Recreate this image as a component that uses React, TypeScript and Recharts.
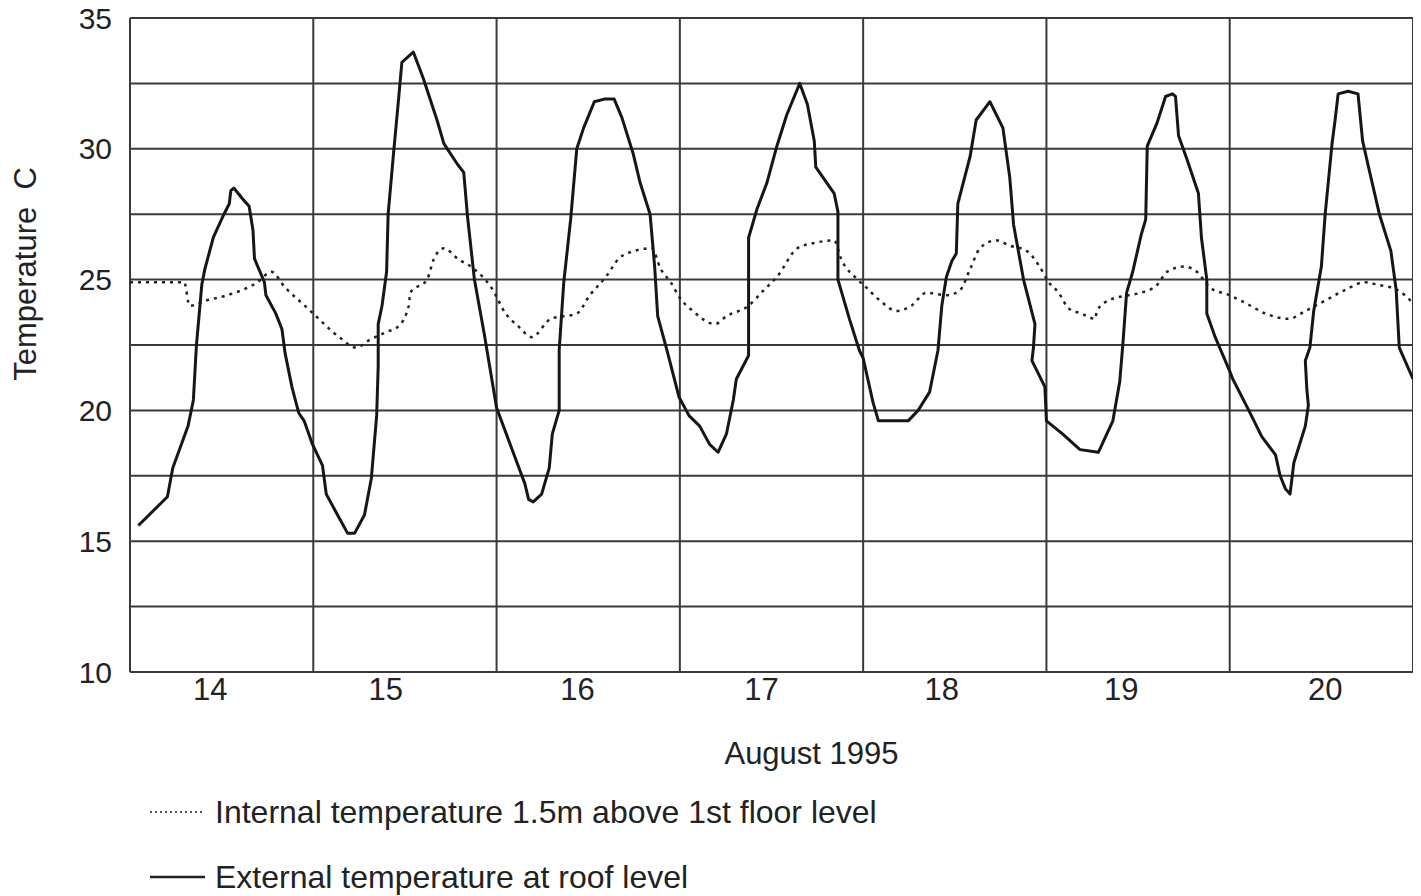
import React from 'react'
import { LineChart, Line, XAxis, YAxis, CartesianGrid, ReferenceLine } from 'recharts'

// August 1995, hours counted from midnight on the 14th
const dayLabels = ['14', '15', '16', '17', '18', '19', '20']
const labelHours = [10.5, 33.5, 58.6, 82.7, 106.3, 129.8, 156.5]
const dayBoundaries = [0, 24, 48, 72, 96, 120, 144, 168]
const tempTicks = [10, 12.5, 15, 17.5, 20, 22.5, 25, 27.5, 30, 32.5, 35]

// external temperature at roof level [hour, °C]
const external: [number, number][] = [
  [1.1, 15.6], [4.9, 16.7], [5.6, 17.8], [7.6, 19.4], [8.3, 20.4], [8.7, 22.5], [9.4, 24.8], [9.8, 25.4], [10.9, 26.6], [12.3, 27.5], [13.0, 27.9], [13.2, 28.4], [13.6, 28.5], [14.7, 28.1], [15.6, 27.8], [16.1, 26.9], [16.3, 25.8], [17.6, 24.9], [17.8, 24.4], [19.1, 23.7], [19.9, 23.1], [20.3, 22.2], [21.2, 20.9], [22.1, 19.9], [22.8, 19.6], [23.9, 18.7],
  [25.2, 17.9], [25.7, 16.8], [27.0, 16.1], [28.5, 15.3], [29.4, 15.3], [30.7, 16.0], [31.6, 17.4], [32.3, 19.8], [32.5, 21.7], [32.5, 23.3], [33.0, 24.0], [33.6, 25.3], [33.8, 27.5], [34.5, 29.8], [35.2, 32.0], [35.6, 33.3], [37.1, 33.7], [38.4, 32.7], [40.2, 31.1], [41.1, 30.2], [42.9, 29.4], [43.7, 29.1], [44.2, 27.4], [45.1, 25.0], [46.4, 22.9], [48.0, 20.1],
  [51.7, 17.2], [52.2, 16.6], [52.8, 16.5], [53.9, 16.8], [54.9, 17.8], [55.3, 19.1], [56.2, 20.0], [56.2, 22.3], [56.8, 24.9], [57.7, 27.3], [58.5, 30.0], [59.4, 30.8], [60.8, 31.8], [62.1, 31.9], [63.4, 31.9], [64.4, 31.2], [65.9, 29.8], [66.8, 28.7], [68.1, 27.5], [68.7, 25.5], [69.1, 23.6], [70.4, 22.2], [71.9, 20.5],
  [73.2, 19.8], [74.6, 19.4], [75.9, 18.7], [77.0, 18.4], [78.1, 19.1], [79.0, 20.4], [79.4, 21.2], [81.0, 22.1], [81.0, 24.5], [81.0, 26.6], [82.1, 27.7], [83.4, 28.7], [84.7, 30.1], [86.0, 31.3], [87.7, 32.5], [88.7, 31.7], [89.6, 30.3], [89.8, 29.3], [92.2, 28.3], [92.7, 27.6], [92.7, 25.0], [94.2, 23.5], [95.5, 22.3],
  [96.0, 22.0], [97.3, 20.3], [98.0, 19.6], [101.9, 19.6], [103.2, 20.0], [104.7, 20.7], [105.8, 22.3], [106.3, 24.0], [106.9, 25.1], [107.6, 25.7], [108.2, 26.0], [108.4, 27.9], [110.0, 29.7], [110.8, 31.1], [112.6, 31.8], [114.3, 30.8], [115.2, 28.9], [115.7, 27.1], [117.0, 25.0], [118.5, 23.3], [118.3, 22.4], [118.1, 21.9], [119.8, 20.9], [120.0, 19.6],
  [122.1, 19.1], [124.4, 18.5], [126.8, 18.4], [128.7, 19.6], [129.6, 21.1], [130.0, 22.5], [130.5, 24.5], [131.3, 25.3], [132.4, 26.7], [133.0, 27.3], [133.2, 30.1], [134.5, 31.0], [135.6, 32.0], [136.5, 32.1], [136.9, 32.0], [137.3, 30.5], [138.4, 29.6], [139.9, 28.3], [140.3, 26.6], [141.0, 25.0], [141.0, 23.7], [142.1, 22.8], [144.0, 21.5],
  [144.4, 21.2], [146.5, 20.0], [148.2, 19.0], [150.0, 18.3], [150.6, 17.5], [151.3, 17.0], [151.9, 16.8], [152.4, 18.0], [153.9, 19.4], [154.3, 20.2], [154.1, 20.8], [153.9, 21.9], [154.5, 22.4], [155.0, 23.8], [156.0, 25.5], [156.5, 27.5], [157.4, 30.2], [157.8, 31.1], [158.2, 32.1], [159.5, 32.2], [160.8, 32.1], [161.4, 30.3], [162.1, 29.4], [163.6, 27.5], [165.1, 26.1], [165.8, 24.6], [166.2, 22.4], [168.0, 21.2],
]

// internal temperature 1.5m above 1st floor level [hour, °C]
const internal: [number, number][] = [
  [0, 24.9], [3.3, 24.9], [7.1, 24.9], [7.8, 24.0], [10.0, 24.2], [12.7, 24.4], [16.7, 24.9], [18.5, 25.3], [20.3, 24.7], [22.9, 24.0],
  [24.0, 23.7], [27.4, 22.8], [29.6, 22.4], [31.4, 22.7], [33.6, 23.0], [35.1, 23.2], [36.5, 24.0], [36.7, 24.5], [38.9, 25.0], [39.8, 25.8], [41.1, 26.2], [42.9, 25.8], [45.1, 25.4], [47.3, 24.7],
  [49.2, 23.7], [50.9, 23.2], [52.6, 22.8], [55.1, 23.5], [58.5, 23.7], [60.2, 24.4], [62.3, 25.1], [64.0, 25.8], [66.1, 26.1], [68.3, 26.2], [69.5, 25.4], [70.8, 24.9], [72.0, 24.3],
  [73.7, 23.8], [76.6, 23.3], [78.1, 23.6], [81.0, 24.0], [83.0, 24.6], [84.7, 25.1], [87.4, 26.2], [89.6, 26.4], [92.2, 26.5], [93.1, 25.8], [95.3, 25.0],
  [96.4, 24.7], [98.2, 24.2], [100.4, 23.8], [102.3, 24.0], [104.3, 24.5], [106.9, 24.4], [108.7, 24.6], [110.0, 25.4], [111.3, 26.2], [113.4, 26.5], [115.2, 26.3], [117.4, 26.1], [119.1, 25.5],
  [120.3, 24.9], [121.6, 24.5], [122.9, 23.9], [124.6, 23.7], [126.4, 23.5], [126.6, 23.8], [128.1, 24.2], [130.7, 24.4], [132.4, 24.5], [134.5, 24.8], [135.8, 25.3], [138.0, 25.5], [139.7, 25.3], [141.4, 24.7], [144.0, 24.4],
  [146.1, 24.1], [148.7, 23.7], [151.7, 23.5], [153.9, 23.8], [156.5, 24.2], [159.1, 24.6], [161.7, 24.9], [163.4, 24.8], [166.0, 24.6], [168.0, 24.1],
]

const FONT = "'Liberation Sans', Arial, Helvetica, sans-serif"
const INK = '#222'
const GRID = '#3a3a3a'

const externalData = external.map(([h, t]) => ({ h, t }))
const internalData = internal.map(([h, t]) => ({ h, t }))

function YLabel(props: any) {
  const { viewBox } = props
  const cx = viewBox.x + 17
  const cy = viewBox.y + viewBox.height / 2 - 71
  return (
    <text
      x={cx}
      y={cy}
      transform={`rotate(-90 ${cx} ${cy})`}
      textAnchor="middle"
      dominantBaseline="central"
      fill={INK}
      style={{ fontFamily: FONT, fontSize: 31 }}
    >
      {'Temperature\u00a0\u00a0C'}
    </text>
  )
}

const legendRow = {
  position: 'absolute' as const,
  left: 142,
  display: 'flex',
  alignItems: 'center',
  fontFamily: FONT,
  fontSize: 32,
  lineHeight: 1,
  color: INK,
  whiteSpace: 'nowrap' as const,
}

export default function App() {
  return (
    <div style={{ position: 'relative', width: 1407, height: 896, marginTop: -8 }}>
      <LineChart
        width={1407}
        height={896}
        margin={{ top: 18, right: 2, left: 0, bottom: 124 }}
      >
        <CartesianGrid vertical={false} stroke={GRID} strokeWidth={2} />
        <XAxis
          dataKey="h"
          type="number"
          domain={[0, 168]}
          ticks={labelHours}
          interval={0}
          tickFormatter={(v) => dayLabels[labelHours.indexOf(v)] ?? ''}
          tick={{ fontSize: 31, fill: INK, fontFamily: FONT }}
          tickLine={false}
          tickSize={0}
          tickMargin={6}
          axisLine={{ stroke: GRID, strokeWidth: 2 }}
          height={100}
          label={{
            value: 'August 1995',
            position: 'insideBottom',
            offset: 8,
            dx: 40,
            style: { fontSize: 31, fill: INK, fontFamily: FONT },
          }}
        />
        <YAxis
          type="number"
          domain={[10, 35]}
          ticks={tempTicks}
          interval={0}
          tickFormatter={(v) => (v % 5 === 0 ? String(v) : '')}
          tick={{ fontSize: 30, fill: INK, fontFamily: FONT }}
          tickLine={false}
          tickSize={0}
          tickMargin={18}
          axisLine={false}
          width={122}
          label={<YLabel />}
        />
        {dayBoundaries.map((d) => (
          <ReferenceLine key={d} x={d} stroke={GRID} strokeWidth={2} />
        ))}
        <Line
          data={internalData}
          dataKey="t"
          type="monotone"
          stroke={INK}
          strokeWidth={2.5}
          strokeDasharray="3 5"
          dot={false}
          isAnimationActive={false}
        />
        <Line
          data={externalData}
          dataKey="t"
          type="linear"
          stroke="#161616"
          strokeWidth={3}
          strokeLinejoin="round"
          dot={false}
          isAnimationActive={false}
        />
      </LineChart>
      <div style={{ ...legendRow, top: 796 }}>
        <svg width={55} height={4} style={{ marginRight: 10 }}>
          <line x1={0} y1={2} x2={55} y2={2} stroke={INK} strokeWidth={1.5} strokeDasharray="2 3" />
        </svg>
        <span>Internal temperature 1.5m above 1st floor level</span>
      </div>
      <div style={{ ...legendRow, top: 861 }}>
        <svg width={55} height={4} style={{ marginRight: 10 }}>
          <line x1={0} y1={2} x2={55} y2={2} stroke={INK} strokeWidth={2.5} />
        </svg>
        <span>External temperature at roof level</span>
      </div>
    </div>
  )
}
